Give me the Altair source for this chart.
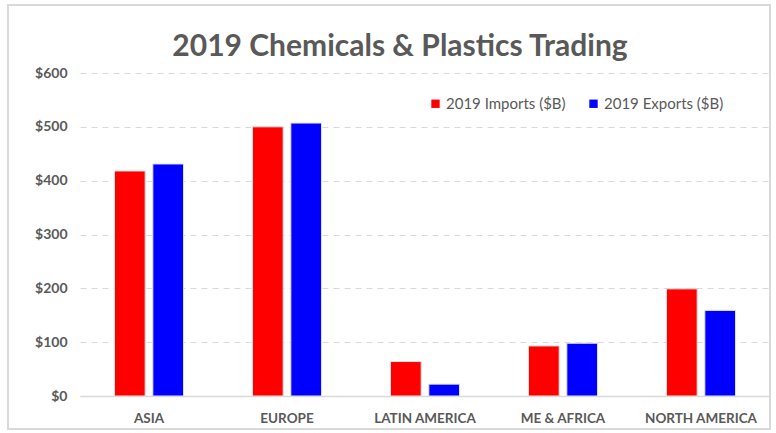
import altair as alt
import pandas as pd

regions = ["ASIA", "EUROPE", "LATIN AMERICA", "ME & AFRICA", "NORTH AMERICA"]
imports_b = [418, 500, 64, 93, 199]
exports_b = [431, 507, 22, 98, 159]
series = ["2019 Imports ($B)", "2019 Exports ($B)"]
colors = ["#FF0000", "#0000FF"]

rows = []
for r, i, e in zip(regions, imports_b, exports_b):
    rows.append({"region": r, "series": series[0], "value": i})
    rows.append({"region": r, "series": series[1], "value": e})
df = pd.DataFrame(rows)

FONT = "Lato"
GREY = "#595959"

bars = alt.Chart(df).mark_bar(stroke="#e0e0e0", strokeWidth=1).encode(
    x=alt.X("region:N", sort=regions, title=None,
            scale=alt.Scale(paddingInner=0.5, paddingOuter=0.25),
            axis=alt.Axis(labelAngle=0, labelFont=FONT, labelFontSize=13.5,
                          labelFontWeight="bold", labelColor=GREY,
                          labelPadding=15, ticks=False, domainColor="#d9d9d9",
                          domainWidth=1.5, grid=False)),
    xOffset=alt.XOffset("series:N", sort=series,
                        scale=alt.Scale(paddingInner=0.2)),
    y=alt.Y("value:Q", title=None,
            scale=alt.Scale(domain=[0, 600], nice=False),
            axis=alt.Axis(values=[0, 100, 200, 300, 400, 500, 600],
                          labelExpr="'$' + datum.value",
                          labelFont=FONT, labelFontSize=14, labelFontWeight="bold",
                          labelColor=GREY, labelPadding=13, ticks=False, domain=False,
                          grid=True, gridColor="#d9d9d9", gridDash=[6, 5], gridWidth=1)),
    color=alt.Color("series:N", sort=series,
                    scale=alt.Scale(domain=series, range=colors),
                    legend=alt.Legend(title=None, orient="none", legendX=348, legendY=23,
                                      direction="horizontal", symbolType="square",
                                      symbolSize=70, symbolStrokeWidth=0,
                                      labelFont=FONT, labelFontSize=15, labelColor=GREY,
                                      columnPadding=20, labelOffset=3)),
)

frame = alt.Chart(pd.DataFrame({"a": [0]})).mark_rect(
    fill=None, stroke="#d9d9d9", strokeWidth=2, clip=False
).encode(x=alt.value(-72), x2=alt.value(690), y=alt.value(-68), y2=alt.value(356))

chart = alt.layer(bars, frame).properties(
    width=690, height=323, background="white",
    title=alt.TitleParams("2019 Chemicals & Plastics Trading", font=FONT, fontSize=30,
                          fontWeight="bold", color=GREY, anchor="middle", frame="group",
                          dx=-25, offset=0, dy=58),
    autosize=alt.AutoSizeParams(type="none"),
    padding={"left": 80, "top": 73, "right": 6, "bottom": 37},
).configure_view(stroke="transparent", strokeWidth=0)

chart.save("out.html", embed_options={"renderer": "svg", "actions": False})
